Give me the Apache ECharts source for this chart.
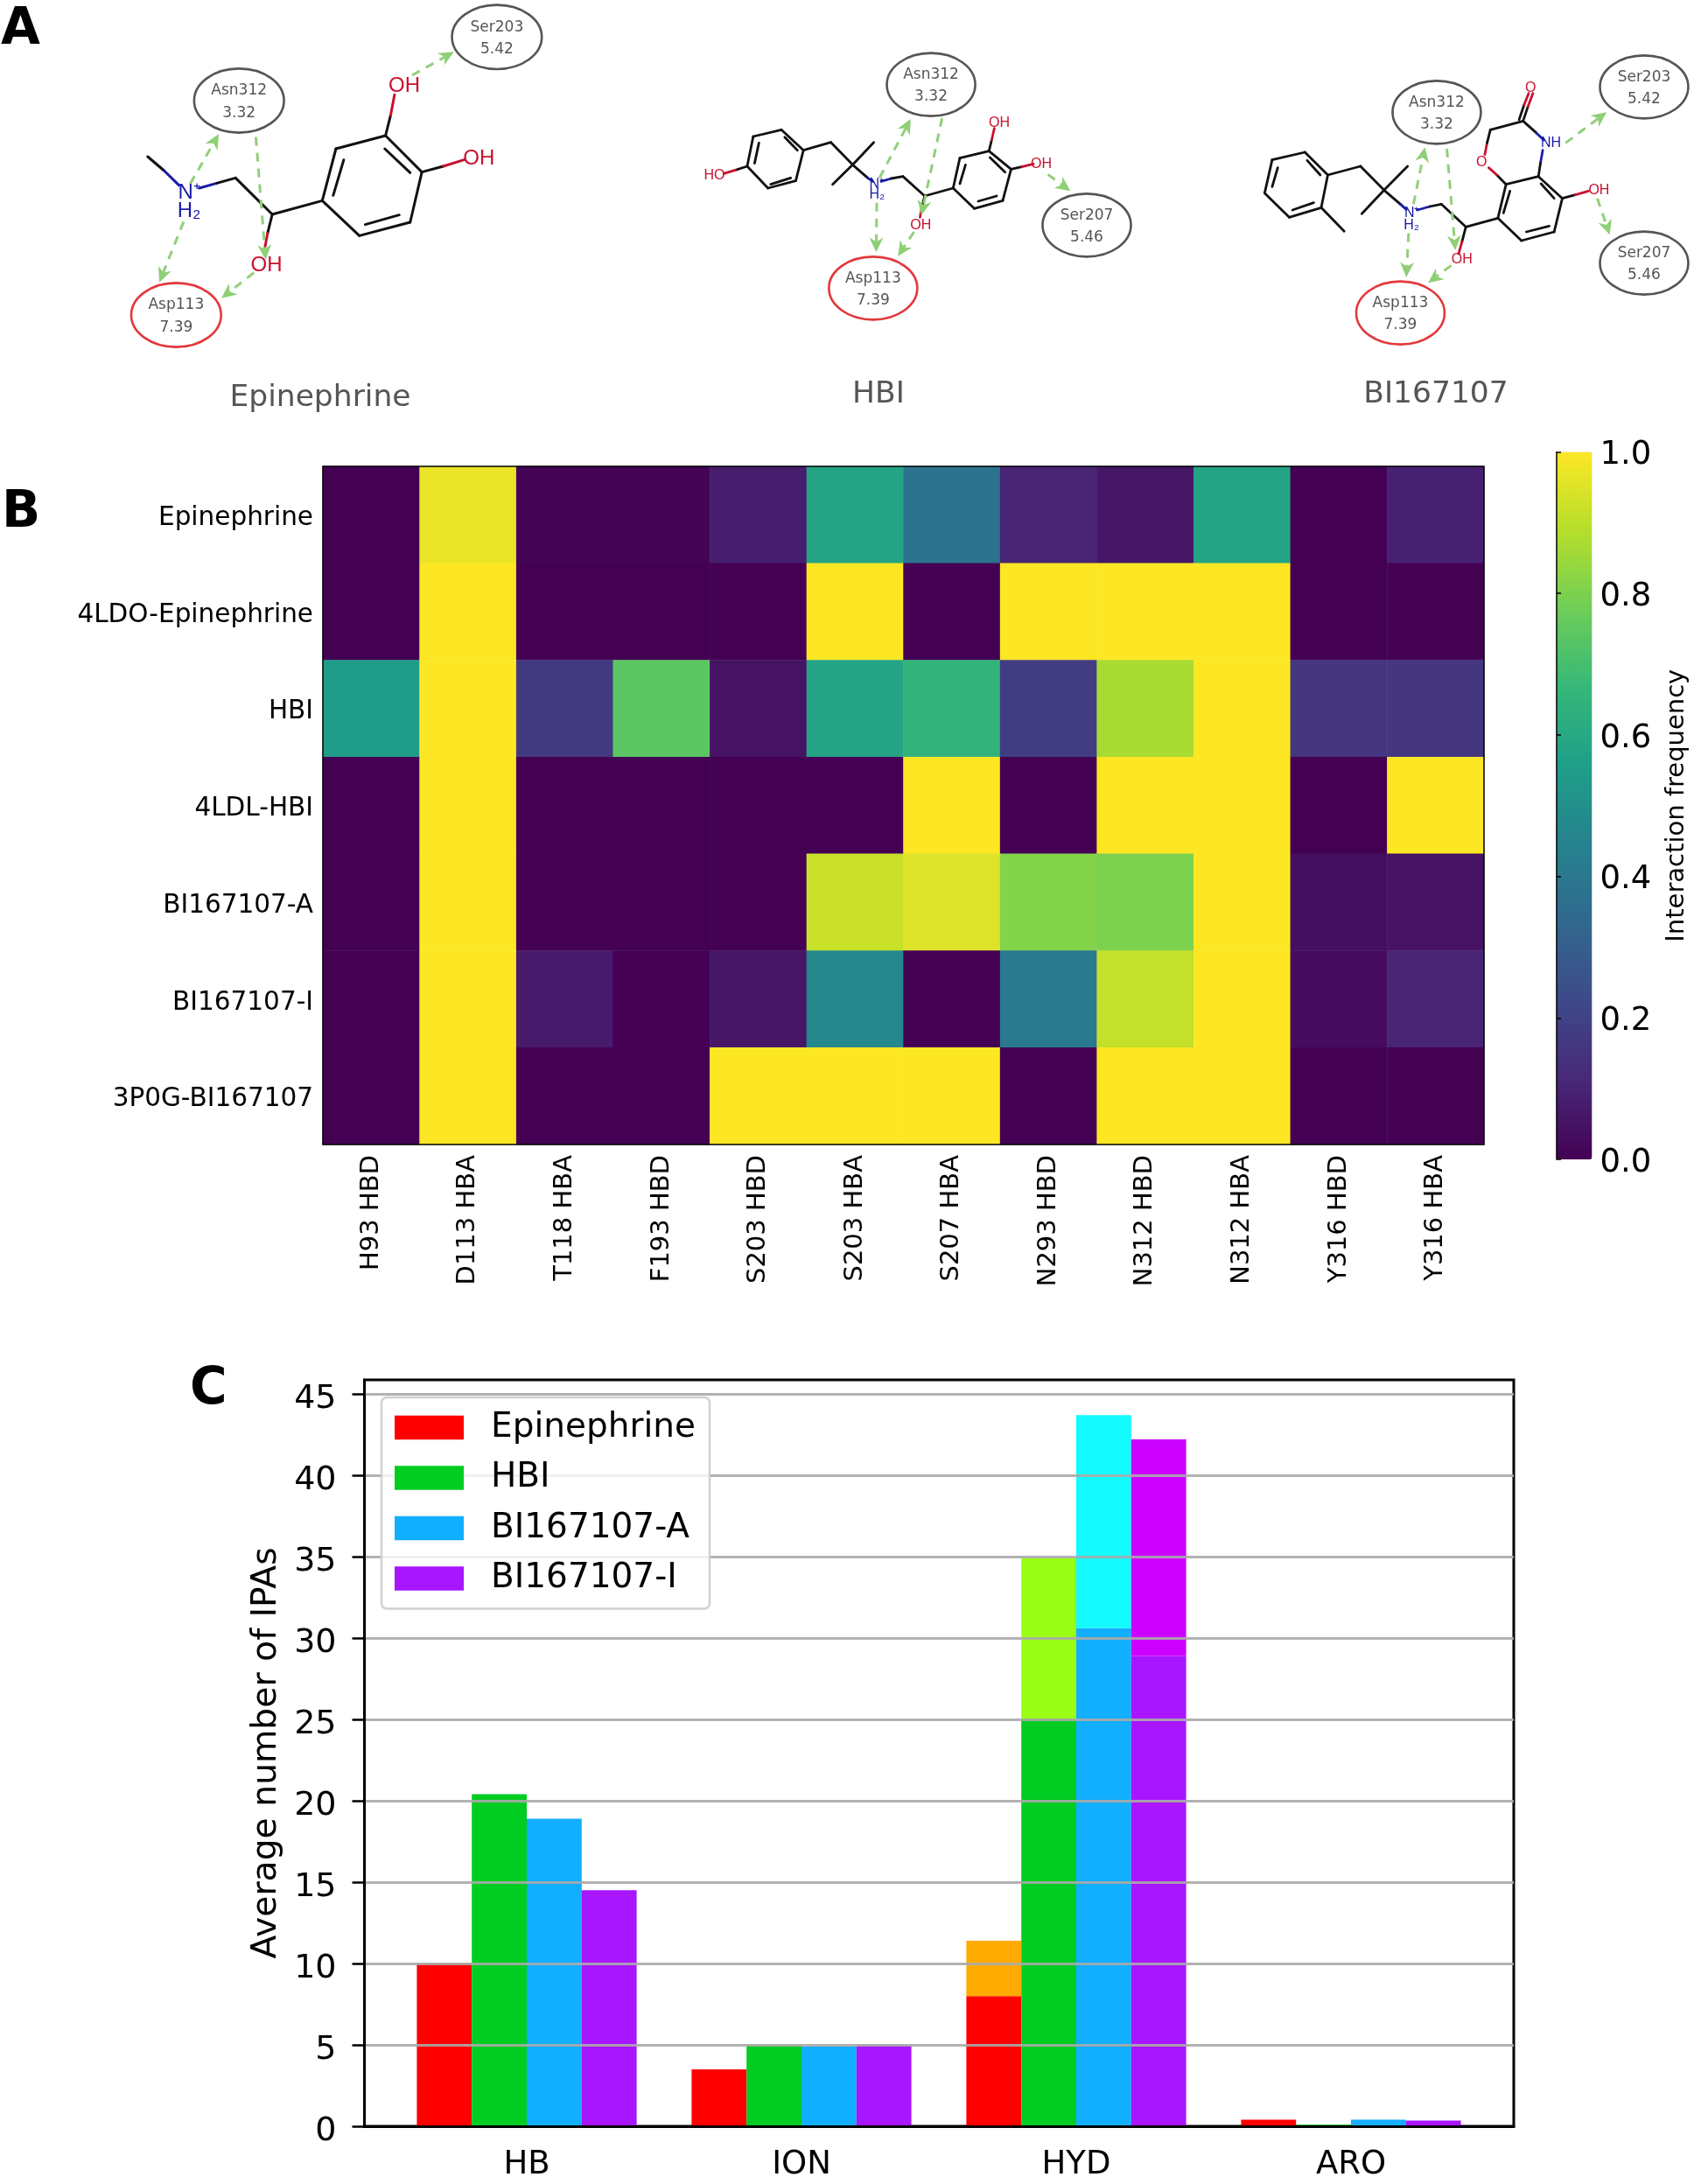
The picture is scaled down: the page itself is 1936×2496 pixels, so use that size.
<!DOCTYPE html>
<html><head><meta charset="utf-8">
<script src="https://cdn.jsdelivr.net/npm/echarts@6/dist/echarts.min.js"></script>
<style>html,body{margin:0;padding:0;background:#fff}#c{width:1936px;height:2496px}</style>
</head><body><div id="c"></div>
<script>
// ---------- Panel B data ----------
const contacts = ['H93 HBD','D113 HBA','T118 HBA','F193 HBD','S203 HBD','S203 HBA','S207 HBA','N293 HBD','N312 HBD','N312 HBA','Y316 HBD','Y316 HBA'];
const systems = ['Epinephrine','4LDO-Epinephrine','HBI','4LDL-HBI','BI167107-A','BI167107-I','3P0G-BI167107'];
const rowEpinephrine = [0,0.97,0.01,0.01,0.08,0.58,0.38,0.10,0.06,0.58,0,0.09];
const row4LDO = [0,1,0,0,0,1,0,1,1,1,0,0];
const rowHBI = [0.55,1,0.17,0.74,0.05,0.58,0.65,0.18,0.87,1,0.16,0.16];
const row4LDL = [0,1,0,0,0,0,1,0,1,1,0,1];
const rowBIA = [0,1,0,0,0,0.92,0.95,0.81,0.80,1,0.04,0.05];
const rowBII = [0,1,0.07,0,0.06,0.47,0,0.41,0.91,1,0.03,0.10];
const row3P0G = [0,1,0,0,1,1,1,0,1,1,0,0];
const viridis = ['#440154','#482878','#3e4989','#31688e','#26828e','#1f9e89','#35b779','#6ece58','#b5de2b','#fde725'];
// ---------- Panel C data ----------
const ipaTypes = ['HB','ION','HYD','ARO'];
const epinephrineBase = [10,3.5,8,0.4];
const epinephrineTop = [0,0,3.4,0];
const hbiBase = [20.4,5,25,0.1];
const hbiTop = [0,0,9.9,0];
const biaBase = [18.9,4.9,30.6,0.4];
const biaTop = [0,0,13.1,0];
const biiBase = [14.5,5,28.9,0.35];
const biiTop = [0,0,13.3,0];
const yTicks = [0,5,10,15,20,25,30,35,40,45];

// ---------- Panel A schematic diagrams (zoom-crop coordinates) ----------
const K='#111', R='#c8102e', B='#1a1aa8';
const molA = {
 fx:2.24, ox:0, fs:24, lw:3,
 bonds:[[378,537,420,585,K],[420,585,458,635,B],[510,645,555,628,B],[555,628,603,610,K],[603,610,697,735,K],[697,735,825,688,K],
  [825,688,860,510,K],[860,510,987,465,K],[987,465,1080,590,K],[1080,590,1050,762,K],[1050,762,920,808,K],[920,808,825,688,K],
  [853,670,880,548,K],[985,510,1050,592,K],[935,770,1022,737,K],
  [987,465,1000,395,K],[1000,395,1010,325,R],[1080,590,1135,570,K],[1135,570,1188,548,R],[697,735,685,800,K],[685,800,678,850,R]],
 atoms:[['OH',1035,295,R],['OH',1226,543,R],['OH',682,910,R],['N⁺',484,660,B],['H₂',484,725,B]],
 res:[['Asn312','3.32',612,345,0],['Ser203','5.42',1272,127,0],['Asp113','7.39',451,1080,1]],
 arrows:[[487,630,560,460],[655,470,680,890],[470,760,408,968],[650,935,567,1022],[1055,258,1162,178]],
 rx:115, ry:110,
 name:['Epinephrine',366,455]
};
const molH = {
 fx:2.613, ox:720, fs:16, lw:2.8,
 bonds:[[350,570,368,468,K],[368,468,452,445,K],[452,445,518,515,K],[518,515,495,620,K],[495,620,412,645,K],[412,645,350,570,K],
  [372,560,385,490,K],[462,470,500,515,K],[420,632,480,610,K],[350,570,315,583,K],[315,583,280,595,R],
  [518,515,600,488,K],[600,488,665,565,K],[665,565,728,488,K],[665,565,605,632,K],[665,565,710,610,K],[710,610,725,622,B],
  [750,622,780,612,B],[780,612,815,605,K],[815,605,880,672,K],[880,672,965,645,K],
  [965,645,985,542,K],[985,542,1072,518,K],[1072,518,1138,580,K],[1138,580,1113,688,K],[1113,688,1028,715,K],[1028,715,965,645,K],
  [985,630,1002,565,K],[1075,540,1120,590,K],[1040,690,1095,672,K],
  [1072,518,1080,480,K],[1080,480,1088,440,R],[1138,580,1170,572,K],[1170,572,1205,562,R],[880,672,872,710,K],[872,710,866,745,R]],
 atoms:[['HO',252,602,R],['OH',1103,422,R],['OH',1228,563,R],['OH',868,772,R],['N⁺',736,632,B],['H₂',738,668,B]],
 res:[['Asn312','3.32',899,290,0],['Ser207','5.46',1364,772,0],['Asp113','7.39',726,988,1]],
 arrows:[[745,610,838,408],[932,405,870,738],[737,695,735,865],[848,795,800,878],[1248,598,1315,655]],
 rx:132, ry:108,
 name:['HBI',1004,451]
};
const molB = {
 fx:2.675, ox:1350, fs:16, lw:2.8,
 bonds:[[255,662,278,548,K],[278,548,378,522,K],[378,522,448,600,K],[448,600,428,712,K],[428,712,330,745,K],[330,745,255,662,K],
  [278,640,295,575,K],[385,550,425,600,K],[340,720,405,695,K],[428,712,498,793,K],
  [448,600,548,570,K],[548,570,620,652,K],[620,652,692,570,K],[620,652,552,733,K],[620,652,670,700,K],[670,700,688,718,B],
  [722,720,760,708,B],[760,708,795,700,K],[795,700,870,778,K],[870,778,968,748,K],
  [968,748,993,632,K],[993,632,1092,605,K],[1092,605,1165,680,K],[1165,680,1140,795,K],[1140,795,1040,825,K],[1040,825,968,748,K],
  [985,730,1005,655,K],[1100,630,1140,680,K],[1055,795,1125,775,K],
  [993,632,965,600,K],[965,600,940,575,R],[928,530,935,490,R],[935,490,945,445,K],[945,445,1045,415,K],
  [1045,415,1060,365,K],[1060,365,1075,320,R],[1033,410,1048,360,K],[1048,360,1062,320,R],
  [1045,415,1085,455,K],[1085,455,1108,480,B],[1105,515,1098,560,B],[1098,560,1092,605,K],
  [1165,680,1205,668,K],[1205,668,1245,655,R],[870,778,858,830,K],[858,830,848,870,R]],
 atoms:[['O',918,558,R],['O',1068,303,R],['NH',1130,492,B],['OH',1277,653,R],['OH',858,890,R],['N⁺',704,730,B],['H₂',704,772,B]],
 res:[['Asn312','3.32',781,385,0],['Ser203','5.42',1415,298,0],['Ser207','5.46',1415,902,0],['Asp113','7.39',670,1073,1]],
 arrows:[[710,700,745,505],[812,510,838,858],[695,800,688,950],[825,910,755,970],[1175,490,1300,385],[1272,680,1310,805]],
 rx:135, ry:108,
 name:['BI167107',1641,451]
};
const panelLetters = [['A',1,35],['B',2,587],['C',217,1589]];

function diagram(m){
  const X=x=>m.ox+x/m.fx, Y=y=>y/3, out=[], FF='"Liberation Sans"', DV='"DejaVu Sans"';
  m.bonds.forEach(b=>out.push({type:'line',silent:true,z:5,shape:{x1:X(b[0]),y1:Y(b[1]),x2:X(b[2]),y2:Y(b[3])},style:{stroke:b[4],lineWidth:m.lw,lineCap:'round'}}));
  m.arrows.forEach(a=>{
    const x1=X(a[0]),y1=Y(a[1]),x2=X(a[2]),y2=Y(a[3]),d=Math.hypot(x2-x1,y2-y1),ux=(x2-x1)/d,uy=(y2-y1)/d,h=17,w=8;
    out.push({type:'line',silent:true,z:6,shape:{x1,y1,x2:x2-ux*h*.7,y2:y2-uy*h*.7},style:{stroke:'#93ce7c',lineWidth:3,lineDash:[10,8]}});
    out.push({type:'polygon',silent:true,z:6,shape:{points:[[x2,y2],[x2-ux*h-uy*w,y2-uy*h+ux*w],[x2-ux*h*.7,y2-uy*h*.7],[x2-ux*h+uy*w,y2-uy*h-ux*w]]},style:{fill:'#8fcf75'}});
  });
  m.atoms.forEach(t=>out.push({type:'text',silent:true,z:7,x:X(t[1]),y:Y(t[2]),style:{text:t[0],fill:t[3],fontFamily:FF,fontSize:m.fs,align:'center',verticalAlign:'middle'}}));
  m.res.forEach(r=>{
    out.push({type:'ellipse',silent:true,z:6,shape:{cx:X(r[2]),cy:Y(r[3]),rx:m.rx/m.fx,ry:m.ry/3},style:{fill:'none',stroke:r[4]?'#e2383c':'#555',lineWidth:2.6}});
    out.push({type:'text',silent:true,z:7,x:X(r[2]),y:Y(r[3]-33),style:{text:r[0],fill:'#555',fontFamily:DV,fontSize:17,align:'center',verticalAlign:'middle'}});
    out.push({type:'text',silent:true,z:7,x:X(r[2]),y:Y(r[3]+43),style:{text:r[1],fill:'#555',fontFamily:DV,fontSize:17,align:'center',verticalAlign:'middle'}});
  });
  out.push({type:'text',silent:true,z:7,x:m.name[1],y:m.name[2],style:{text:m.name[0],fill:'#555',fontFamily:DV,fontSize:34.5,align:'center',verticalAlign:'middle'}});
  return out;
}
const graphics=[...diagram(molA),...diagram(molH),...diagram(molB)];
panelLetters.forEach(p=>graphics.push({type:'text',silent:true,z:8,x:p[1],y:p[2],style:{text:p[0],fill:'#000',fontFamily:'"DejaVu Sans"',fontWeight:'bold',fontSize:58,align:'left',verticalAlign:'middle'}}));

const rows=[rowEpinephrine,row4LDO,rowHBI,row4LDL,rowBIA,rowBII,row3P0G];
const cells=[];rows.forEach((r,y)=>r.forEach((v,x)=>cells.push([x,y,v])));
const F='"DejaVu Sans"';
const barFrame={top:1577,height:853};
const barSeries=(name,data,color,stack)=>({name,type:'bar',stack,data,xAxisIndex:3,yAxisIndex:3,itemStyle:{color},barCategoryGap:'20%',barGap:'0%',z:2,silent:true,animation:false});
// label nudged downward relative to its tick, as in the reference
const nudged=(fontSize,pad,fmt)=>({formatter:v=>'{a|'+fmt(v)+'}',rich:{a:{fontSize,fontFamily:F,color:'#000',padding:[pad,0,0,0]}}});

const option={
 animation:false,backgroundColor:'#fff',textStyle:{fontFamily:F},
 graphic:graphics,
 grid:[
  {left:369,top:533,width:1327,height:775,show:true,borderColor:'#000',borderWidth:1.5,backgroundColor:'transparent',z:5},
  {left:1779,top:516.5,width:40.5,height:808.5},
  {left:416.5,top:barFrame.top,width:1313.5,height:barFrame.height,show:true,borderColor:'#000',borderWidth:3},
  {left:445,top:barFrame.top,width:1256,height:barFrame.height}
 ],
 xAxis:[
  {gridIndex:0,type:'category',data:contacts,position:'bottom',axisLine:{show:false},axisTick:{alignWithLabel:true,length:7,lineStyle:{color:'#000',width:1.5}},axisLabel:{interval:0,rotate:90,fontSize:29,fontFamily:F,color:'#000',margin:12},splitLine:{show:false}},
  {gridIndex:1,type:'value',min:0,max:1,show:false},
  {gridIndex:2,type:'value',min:0,max:1,axisLabel:{show:false},axisTick:{show:false},splitLine:{show:false},axisLine:{show:true,onZero:false,lineStyle:{color:'#000',width:3}},z:10},
  {gridIndex:3,type:'category',data:ipaTypes,axisLine:{show:false},axisTick:{alignWithLabel:true,length:13,lineStyle:{color:'#000',width:2.5}},axisLabel:{interval:0,fontSize:37,fontFamily:F,color:'#000',margin:26},splitLine:{show:false}}
 ],
 yAxis:[
  {gridIndex:0,type:'category',data:systems,inverse:true,axisLine:{show:false},axisTick:{alignWithLabel:true,length:6,lineStyle:{color:'#000',width:1.5}},axisLabel:{interval:0,margin:11,...nudged(29.5,8,v=>v)},splitLine:{show:false}},
  {gridIndex:1,type:'value',min:0,max:1,interval:0.2,position:'right',z:10,
   name:'Interaction frequency',nameLocation:'middle',nameRotate:90,nameGap:82,nameMoveOverlap:false,nameTextStyle:{fontSize:29,fontFamily:F,color:'#000'},
   axisLine:{show:true,lineStyle:{color:'#000',width:1.5}},axisTick:{show:true,length:5,lineStyle:{color:'#000',width:1.5}},
   axisLabel:{margin:9,...nudged(37,8,v=>v.toFixed(1))},splitLine:{show:false}},
  {gridIndex:2,type:'value',min:0,max:45.86,interval:5,z:5,
   name:'Average number of IPAs',nameLocation:'middle',nameGap:92,nameMoveOverlap:false,nameTextStyle:{fontSize:39.3,fontFamily:F,color:'#000'},
   axisLine:{show:true,lineStyle:{color:'#000',width:3}},
   axisTick:{show:true,length:14,customValues:yTicks,lineStyle:{color:'#000',width:2.5}},
   axisLabel:{margin:32,customValues:yTicks,...nudged(38,12,v=>String(v))},
   splitLine:{show:true,lineStyle:{color:'rgba(170,170,170,0.9)',width:3}}},
  {gridIndex:3,type:'value',min:0,max:45.86,show:false}
 ],
 visualMap:{type:'continuous',min:0,max:1,seriesIndex:0,calculable:false,realtime:false,hoverLink:false,left:1779,top:516.5,itemWidth:40.5,itemHeight:808.5,text:['',''],showLabel:false,padding:0,inRange:{color:viridis},z:4},
 legend:{
  left:436,top:1597,width:376,orient:'vertical',padding:[15,16,15,15],itemWidth:79,itemHeight:27.5,itemGap:18.5,
  data:['Epinephrine','HBI','BI167107-A','BI167107-I'],selectedMode:false,icon:'rect',
  textStyle:{fontSize:39,fontFamily:F,color:'#000',padding:[0,0,0,26]},
  backgroundColor:'rgba(255,255,255,0.8)',borderColor:'rgba(204,204,204,0.9)',borderWidth:2.5,borderRadius:6,z:20
 },
 series:[
  {type:'heatmap',xAxisIndex:0,yAxisIndex:0,data:cells,silent:true,itemStyle:{borderWidth:0},z:2},
  barSeries('Epinephrine',epinephrineBase,'#ff0000','e'),
  barSeries('Epinephrine-top',epinephrineTop,'#ffaa00','e'),
  barSeries('HBI',hbiBase,'#00cc22','h'),
  barSeries('HBI-top',hbiTop,'#99ff14','h'),
  barSeries('BI167107-A',biaBase,'#12aeff','a'),
  barSeries('BI167107-A-top',biaTop,'#14faff','a'),
  barSeries('BI167107-I',biiBase,'#a815ff','i'),
  barSeries('BI167107-I-top',biiTop,'#cc00ff','i')
 ]
};
const chart=echarts.init(document.getElementById('c'),null,{renderer:'canvas'});
chart.setOption(option);
</script></body></html>
